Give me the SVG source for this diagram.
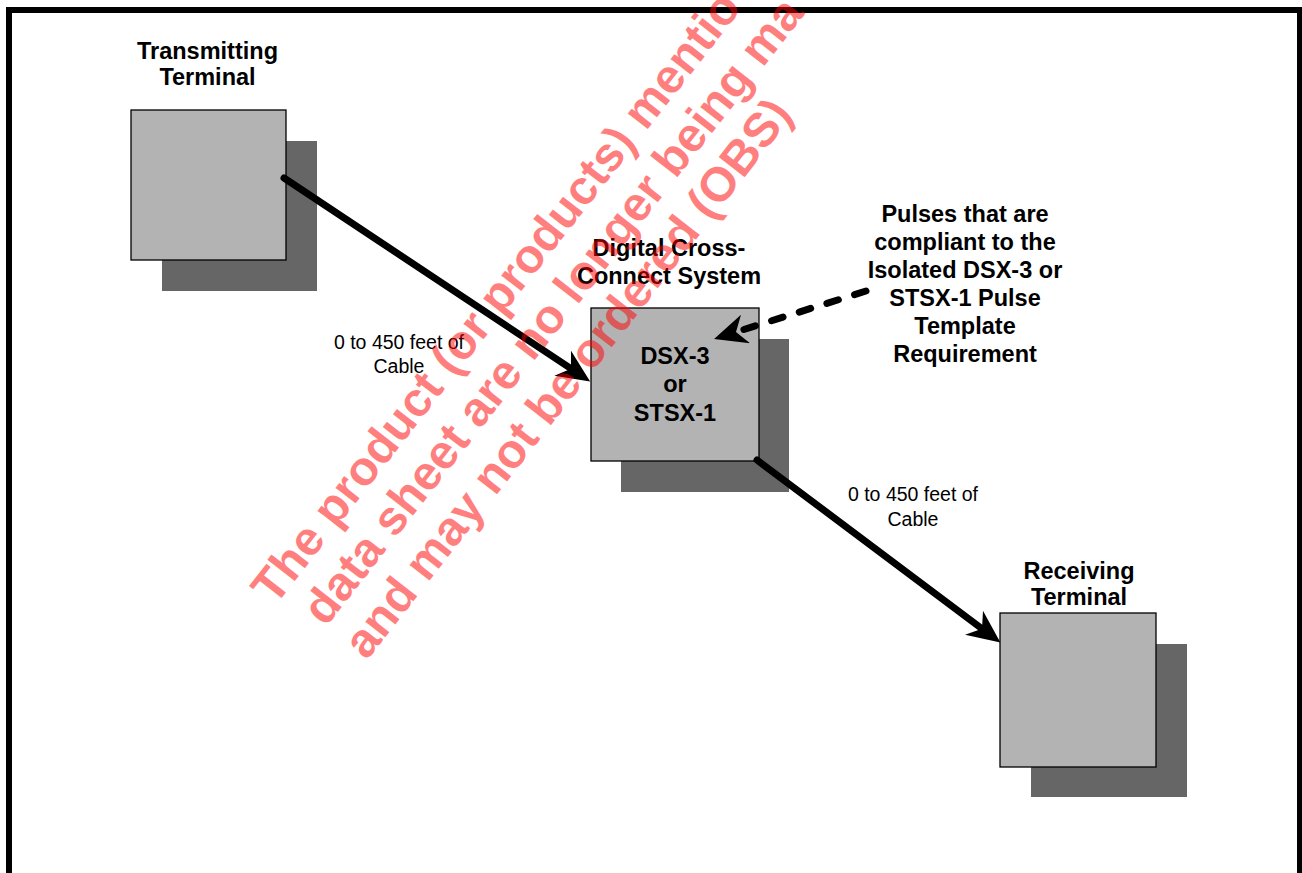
<svg xmlns="http://www.w3.org/2000/svg" width="1302" height="873" viewBox="0 0 1302 873">
<style>
.lbl{font-family:"Liberation Sans",Arial,sans-serif;font-weight:bold;font-size:23.5px;fill:#000;text-anchor:middle}
.cab{font-family:"Liberation Sans",Arial,sans-serif;font-size:19.5px;fill:#000;text-anchor:middle}
.box{fill:#b3b3b3;stroke:#000;stroke-width:1.3}
.shd{fill:#666666}
.wm{font-family:"Liberation Sans",Arial,sans-serif;font-weight:bold;font-size:48px;fill:#ff0000;fill-opacity:0.5}
.cn{fill:none;stroke:#000;stroke-width:7;stroke-linecap:round}
</style>
<defs>
<marker id="ah" markerUnits="userSpaceOnUse" markerWidth="33" markerHeight="30" viewBox="0 0 33 30" refX="10" refY="15" orient="auto">
<path d="M33,15 L0,0 L10,15 L0,30 Z" fill="#000"/>
</marker>
</defs>
<rect x="9" y="10" width="1291" height="900" fill="#fff" stroke="#000" stroke-width="6"/>
<g id="transmitting">
<rect class="shd" x="162" y="141" width="155" height="150"/>
<rect class="box" x="131" y="110" width="155" height="150"/>
<text class="lbl" x="207.5" y="59">Transmitting</text>
<text class="lbl" x="207.5" y="85">Terminal</text>
</g>
<g id="dsx">
<rect class="shd" x="621" y="339" width="168" height="153"/>
<rect class="box" x="591" y="308" width="168" height="153"/>
<text class="lbl" x="669" y="256">Digital Cross-</text>
<text class="lbl" x="669" y="284">Connect System</text>
<text class="lbl" x="675" y="364">DSX-3</text>
<text class="lbl" x="675" y="392">or</text>
<text class="lbl" x="675" y="421">STSX-1</text>
</g>
<g id="receiving">
<rect class="shd" x="1031" y="644" width="156" height="153"/>
<rect class="box" x="1000" y="613" width="156" height="154"/>
<text class="lbl" x="1079" y="579">Receiving</text>
<text class="lbl" x="1079" y="605">Terminal</text>
</g>
<g id="pulses-note">
<text class="lbl" x="965" y="222">Pulses that are</text>
<text class="lbl" x="965" y="250">compliant to the</text>
<text class="lbl" x="965" y="278">Isolated DSX-3 or</text>
<text class="lbl" x="965" y="306">STSX-1 Pulse</text>
<text class="lbl" x="965" y="334">Template</text>
<text class="lbl" x="965" y="362">Requirement</text>
</g>
<g id="connectors">
<line class="cn" x1="284" y1="178" x2="571" y2="368.7" marker-end="url(#ah)"/>
<line class="cn" x1="757" y1="460" x2="982" y2="628.8" marker-end="url(#ah)"/>
<line class="cn" x1="866" y1="291" x2="736" y2="332" stroke-width="8" stroke-dasharray="12 17" marker-end="url(#ah)"/>
<text class="cab" x="399" y="349">0 to 450 feet of</text>
<text class="cab" x="399" y="373">Cable</text>
<text class="cab" x="913" y="501">0 to 450 feet of</text>
<text class="cab" x="913" y="526">Cable</text>
</g>
<g id="watermark" transform="rotate(-52)">
<text class="wm" x="-309" y="590">The product (or products) mentio</text>
<text class="wm" x="-294" y="643">data sheet are no longer being ma</text>
<text class="wm" x="-295" y="696">and may not be ordered (OBS)</text>
</g>
</svg>
